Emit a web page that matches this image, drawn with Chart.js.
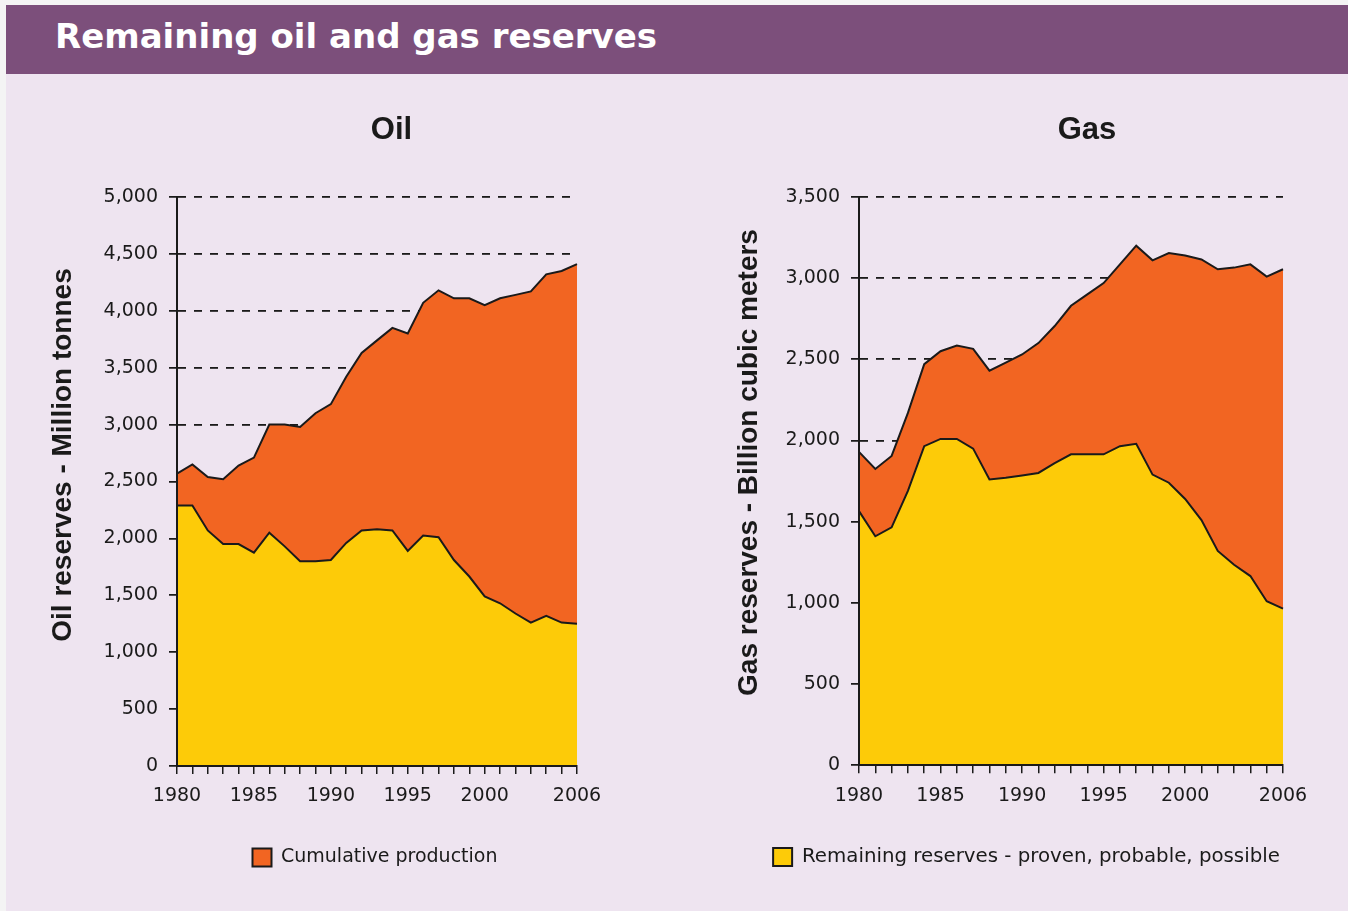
<!DOCTYPE html>
<html>
<head>
<meta charset="utf-8">
<script src="https://cdn.jsdelivr.net/npm/chart.js@4.4.0/dist/chart.umd.min.js"></script>
<style>
html,body{margin:0;padding:0;background:#f4f4f4;}
body{width:1348px;height:911px;position:relative;overflow:hidden;}
#panel{position:absolute;left:6px;top:5px;width:1342px;height:906px;background:#EEE4F0;}
#bar{position:absolute;left:6px;top:5px;width:1342px;height:69px;background:#7C4F7B;}
#bar h1{position:absolute;left:49px;top:11px;margin:0;font:bold 34px "DejaVu Sans",sans-serif;line-height:40px;color:#fff;white-space:nowrap;}
.cv{position:absolute;top:74px;width:674px;height:837px;}
#oilWrap{left:0;}
#gasWrap{left:674px;}
</style>
</head>
<body>
<div id="panel"></div>
<div id="bar"><h1>Remaining oil and gas reserves</h1></div>
<div class="cv" id="oilWrap"><canvas id="oil" width="674" height="837"></canvas></div>
<div class="cv" id="gasWrap"><canvas id="gas" width="674" height="837"></canvas></div>
<script>
// ---- data ----
const years = [1980,1981,1982,1983,1984,1985,1986,1987,1988,1989,1990,1991,1992,1993,1994,1995,1996,1997,1998,1999,2000,2001,2002,2003,2004,2005,2006];
const xTickLabels = [1980,1985,1990,1995,2000,2006];
const seriesNames = ['Remaining reserves - proven, probable, possible', 'Cumulative production'];

const oilRemaining  = [2290,2290,2070,1950,1950,1875,2050,1930,1800,1800,1810,1960,2070,2080,2070,1890,2025,2010,1810,1665,1490,1430,1340,1260,1320,1260,1250];
const oilProduction = [280,360,470,570,690,835,950,1070,1180,1300,1370,1460,1560,1660,1780,1910,2045,2170,2300,2445,2560,2680,2800,2910,3000,3090,3160];

const gasRemaining  = [1565,1410,1465,1690,1965,2010,2010,1950,1760,1770,1785,1800,1860,1915,1915,1915,1965,1980,1790,1740,1640,1510,1320,1235,1165,1010,965];
const gasProduction = [365,415,440,480,505,540,575,615,670,710,745,800,845,915,985,1055,1120,1220,1320,1415,1500,1605,1735,1830,1920,2000,2090];

const oilYMax = 5000, gasYMax = 3500, yStep = 500;
const oilTitle = 'Oil', gasTitle = 'Gas';
const oilAxisTitle = 'Oil reserves - Million tonnes';
const gasAxisTitle = 'Gas reserves - Billion cubic meters';

// ---- styling ----
const YELLOW = '#FDCB08', ORANGE = '#F26522', INK = '#1a1a1a';
Chart.defaults.font.family = '"DejaVu Sans", sans-serif';

const panelText = {
  id: 'panelText',
  afterDraw(chart, args, o) {
    const ctx = chart.ctx;
    ctx.save();
    ctx.fillStyle = INK;
    ctx.textAlign = 'center';
    ctx.textBaseline = 'middle';
    ctx.font = 'bold 31px "Liberation Sans", Arial, sans-serif';
    ctx.fillText(o.title, o.titleX, o.titleY);
    ctx.translate(o.axisX, o.axisY);
    ctx.rotate(-Math.PI / 2);
    ctx.font = 'bold 28px "Liberation Sans", Arial, sans-serif';
    ctx.fillText(o.axisTitle, 0, 0);
    ctx.restore();
  }
};

function makeChart(id, p) {
  return new Chart(document.getElementById(id), {
    type: 'line',
    data: {
      labels: years,
      datasets: [
        {label: seriesNames[0], data: p.remaining, fill: 'origin', backgroundColor: YELLOW,
         borderColor: INK, borderWidth: 2, pointRadius: 0, tension: 0},
        {label: seriesNames[1], data: p.production, fill: '-1', backgroundColor: ORANGE,
         borderColor: INK, borderWidth: 2, pointRadius: 0, tension: 0}
      ]
    },
    options: {
      responsive: false,
      animation: false,
      layout: {padding: {left: p.padL, right: 0, top: 123, bottom: 34}},
      plugins: {
        title: {display: false},
        tooltip: {enabled: false},
        legend: {
          position: 'bottom',
          labels: {
            filter: item => item.datasetIndex === p.legendIndex,
            boxWidth: 19, boxHeight: 18, padding: 10, color: INK,
            font: {size: p.legendSize}
          }
        },
        panelText: p.text
      },
      scales: {
        x: {
          type: 'category',
          offset: false,
          grid: {drawOnChartArea: false, drawTicks: true, tickLength: 8, color: INK, lineWidth: 1.5},
          border: {display: true, color: INK, width: 2, z: 1},
          ticks: {
            autoSkip: false, maxRotation: 0, minRotation: 0, padding: 11, color: INK,
            font: {size: 19},
            callback: function (v, i) { const y = years[i]; return xTickLabels.includes(y) ? String(y) : ''; }
          },
          afterFit: s => { s.height = 72; s.paddingRight = p.padR; }
        },
        y: {
          stacked: true,
          min: 0, max: p.yMax,
          ticks: {stepSize: yStep, padding: 11, color: INK, font: {size: 19},
                  callback: v => Number(v).toLocaleString('en-US')},
          grid: {color: INK, lineWidth: 1.8, tickLength: 8, tickBorderDash: [1, 0]},
          border: {display: true, color: INK, width: 2, dash: [8, 8], z: 1},
          afterFit: s => { s.width = p.yW; }
        }
      }
    },
    plugins: [panelText]
  });
}

makeChart('oil', {
  remaining: oilRemaining, production: oilProduction, yMax: oilYMax,
  padL: 76, yW: 101, padR: 97, legendIndex: 1, legendSize: 19,
  text: {title: oilTitle, titleX: 391.5, titleY: 56.5, axisTitle: oilAxisTitle, axisX: 63.5, axisY: 381}
});
makeChart('gas', {
  remaining: gasRemaining, production: gasProduction, yMax: gasYMax,
  padL: 31, yW: 154, padR: 65, legendIndex: 0, legendSize: 19.8,
  text: {title: gasTitle, titleX: 413, titleY: 56.5, axisTitle: gasAxisTitle, axisX: 75, axisY: 388.5}
});
</script>
</body>
</html>
